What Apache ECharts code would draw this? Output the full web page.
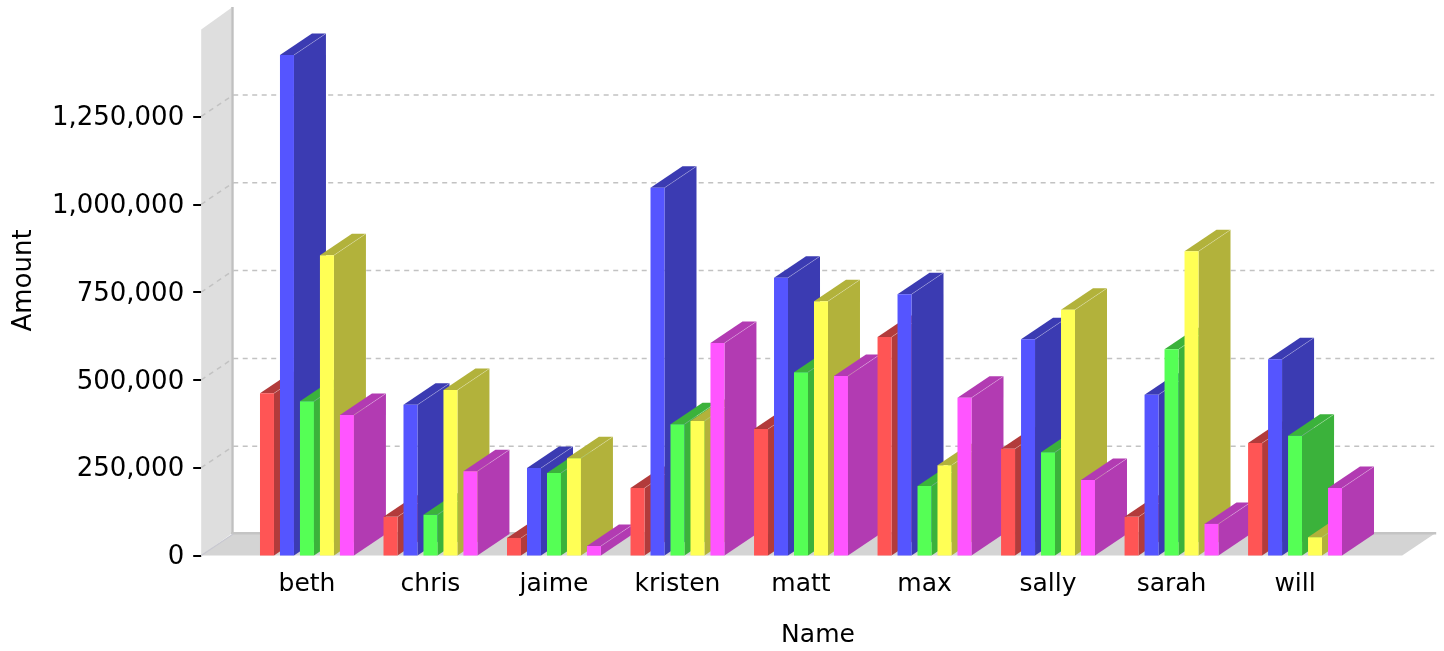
<!DOCTYPE html>
<html>
<head>
<meta charset="utf-8">
<style>html,body{margin:0;padding:0;background:#fff}#c{width:1444px;height:651px}</style>
<script src="https://cdn.jsdelivr.net/npm/echarts@6/dist/echarts.min.js"></script>
</head>
<body>
<div id="c"></div>
<script>
const categories = ['beth','chris','jaime','kristen','matt','max','sally','sarah','will'];
const red     = [462000,110000,50000,192000,360000,622000,304000,110000,320000];
const blue    = [1425000,429000,249000,1047000,791000,744000,616000,458000,559000];
const green   = [439000,116000,235000,374000,522000,198000,294000,587000,341000];
const yellow  = [855000,471000,277000,383000,724000,257000,700000,866000,52000];
const magenta = [400000,240000,27000,605000,511000,449000,215000,90000,192000];
const yTicks = [0,250000,500000,750000,1000000,1250000];
const gridValues = [250000,500000,750000,1000000,1250000];
const yMax = 1497700;

const seriesValues = [red,blue,green,yellow,magenta];
const fronts = ['#FF5555','#5555FF','#55FF55','#FFFF55','#FF55FF'];
const sides  = ['#B23B3B','#3B3BB2','#3BB23B','#B2B23B','#B23BB2'];
const DX = 32, DY = 21.5, AXIS_GAP = 44, FONT = '"DejaVu Sans"';

const barData = [];
categories.forEach((c,i)=>seriesValues.forEach((vals,s)=>barData.push([i,vals[i],s])));

function poly(points,fill,z2){return {type:'polygon',z2:z2||0,shape:{points},style:{fill}};}

function renderBack(params,api){
  const cs = params.coordSys;
  const l = cs.x-AXIS_GAP, t = cs.y, b = cs.y+cs.height, r = l+1201;
  const children = [
    poly([[l,t],[l+DX-2,t-DY],[l+DX-2,b-DY],[l,b]],'#DEDEDE'),
    poly([[l,b],[l+DX,b-DY],[r+DX,b-DY],[r,b]],'#D4D4D4'),
    {type:'rect',shape:{x:l+DX-2,y:t-DY-1,width:2.5,height:cs.height+1},style:{fill:'#C0C0C0'}},
    {type:'rect',shape:{x:l+DX-2,y:b-DY-2,width:r-l+4,height:2.5},style:{fill:'#C4C4C4'}},
    {type:'line',shape:{x1:l,y1:b,x2:l+DX,y2:b-DY},style:{stroke:'#C8C8D0',lineWidth:1.5}}
  ];
  gridValues.forEach(v=>{
    const y = api.coord([0,v])[1];
    const st = {stroke:'#C2C2C2',lineWidth:1.5,lineDash:[5,4.5]};
    children.push({type:'line',shape:{x1:l+DX,y1:y-DY,x2:r+DX,y2:y-DY},style:st});
    children.push({type:'line',shape:{x1:l,y1:y,x2:l+DX,y2:y-DY},style:st});
  });
  return {type:'group',children};
}

function renderBar(params,api){
  const cat = api.value(0), val = api.value(1), s = api.value(2);
  const top = api.coord([cat,val]), base = api.coord([cat,0]);
  const band = api.size([1,0])[0];
  const step = band*20/123.6, w = band*14/123.6;
  const x = top[0]+(s-2)*step-w/2, y0 = top[1], y1 = base[1];
  return {type:'group',children:[
    poly([[x+w,y1],[x+w+DX,y1-DY],[x+w+DX,y0-DY],[x+w,y0]],sides[s]),
    poly([[x,y0],[x+DX,y0-DY],[x+w+DX,y0-DY],[x+w,y0]],sides[s]),
    {type:'line',shape:{x1:x+w,y1:y0,x2:x+w+DX,y2:y0-DY},style:{stroke:'rgba(255,255,255,0.25)',lineWidth:1}},
    {type:'rect',shape:{x,y:y0,width:w,height:y1-y0},style:{fill:fronts[s]}}
  ]};
}

const chart = echarts.init(document.getElementById('c'),null,{renderer:'canvas'});
chart.setOption({
  animation:false,
  backgroundColor:'#fff',
  grid:{left:245.2,right:87.2,top:29.5,bottom:95.5,outerBoundsMode:'none'},
  xAxis:{
    type:'category',data:categories,
    axisLine:{show:false},axisTick:{show:false},splitLine:{show:false},
    axisLabel:{color:'#000',fontFamily:FONT,fontSize:25,margin:16},
    name:'Name',nameLocation:'middle',nameGap:67,
    nameTextStyle:{color:'#000',fontFamily:FONT,fontSize:25,padding:[0,0,0,34]}
  },
  yAxis:{
    type:'value',min:0,max:yMax,offset:AXIS_GAP,
    axisLine:{show:false},
    axisTick:{show:true,length:8,lineStyle:{color:'#000',width:2},customValues:yTicks},
    axisLabel:{color:'#000',fontFamily:FONT,fontSize:26,margin:17,verticalAlign:'top',lineHeight:4,customValues:yTicks,
      formatter:v=>v.toLocaleString('en-US')},
    splitLine:{show:false},
    name:'Amount',nameLocation:'middle',nameGap:164,nameRotate:90,
    nameTextStyle:{color:'#000',fontFamily:FONT,fontSize:26,padding:[0,0,0,24]}
  },
  series:[
    {type:'custom',z:1,silent:true,data:[[0,0]],encode:{x:0,y:1},renderItem:renderBack},
    {type:'custom',z:2,silent:true,data:barData,encode:{x:0,y:1},renderItem:renderBar}
  ]
});
</script>
</body>
</html>
